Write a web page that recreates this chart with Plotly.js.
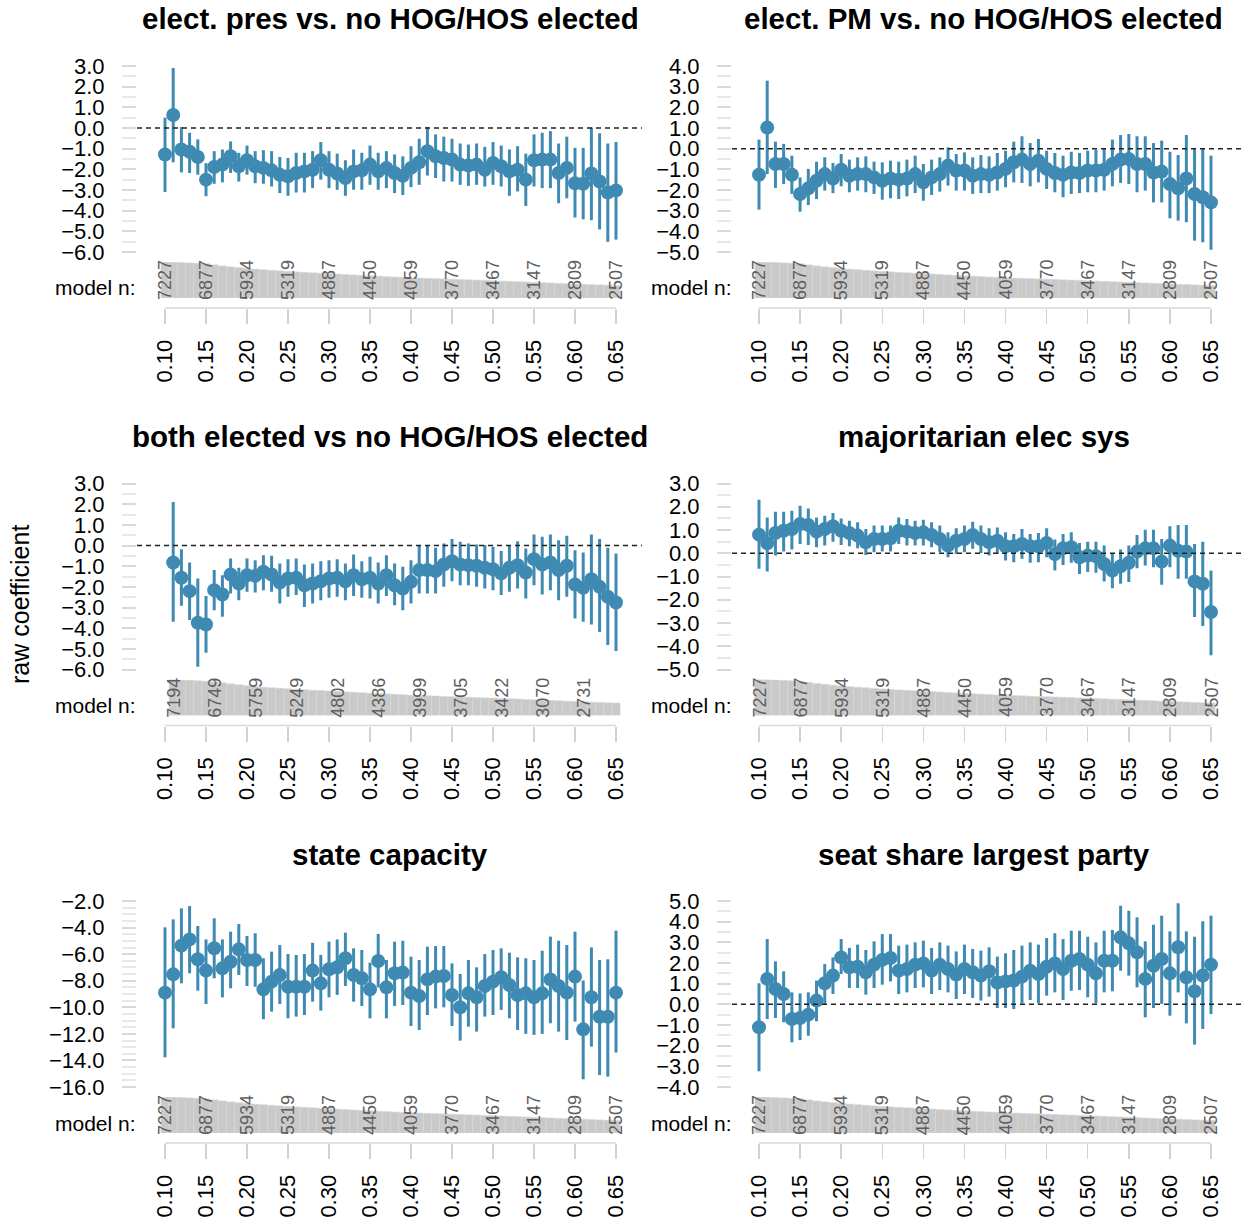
<!DOCTYPE html>
<html><head><meta charset="utf-8">
<script src="https://cdn.plot.ly/plotly-3.0.1.min.js"></script>
<style>html,body{margin:0;padding:0;background:#fff}</style>
</head><body><div id="chart" style="width:1241px;height:1221px"></div>
<script>
// ---------------- DATA ----------------
const thresholds = [0.10,0.11,0.12,0.13,0.14,0.15,0.16,0.17,0.18,0.19,0.20,0.21,0.22,0.23,0.24,0.25,0.26,0.27,0.28,0.29,0.30,0.31,0.32,0.33,0.34,0.35,0.36,0.37,0.38,0.39,0.40,0.41,0.42,0.43,0.44,0.45,0.46,0.47,0.48,0.49,0.50,0.51,0.52,0.53,0.54,0.55,0.56,0.57,0.58,0.59,0.60,0.61,0.62,0.63,0.64,0.65];
const thresholdsBoth = [0.11,0.12,0.13,0.14,0.15,0.16,0.17,0.18,0.19,0.20,0.21,0.22,0.23,0.24,0.25,0.26,0.27,0.28,0.29,0.30,0.31,0.32,0.33,0.34,0.35,0.36,0.37,0.38,0.39,0.40,0.41,0.42,0.43,0.44,0.45,0.46,0.47,0.48,0.49,0.50,0.51,0.52,0.53,0.54,0.55,0.56,0.57,0.58,0.59,0.60,0.61,0.62,0.63,0.64,0.65];
const xTickValues = [0.10,0.15,0.20,0.25,0.30,0.35,0.40,0.45,0.50,0.55,0.60,0.65];
const xTickLabels = ["0.10","0.15","0.20","0.25","0.30","0.35","0.40","0.45","0.50","0.55","0.60","0.65"];

const modelN = [7227,7180,7120,7040,6960,6877,6650,6440,6250,6090,5934,5800,5680,5560,5440,5319,5230,5140,5060,4970,4887,4800,4710,4620,4530,4450,4370,4290,4210,4130,4059,4000,3945,3885,3830,3770,3710,3650,3590,3530,3467,3400,3340,3275,3210,3147,3080,3010,2940,2875,2809,2750,2690,2630,2565,2507];
const modelNBoth = [7194,7110,7020,6930,6840,6749,6540,6320,6120,5930,5759,5650,5550,5450,5350,5249,5160,5070,4980,4890,4802,4720,4630,4550,4470,4386,4310,4230,4150,4070,3999,3940,3880,3820,3760,3705,3650,3590,3530,3480,3422,3350,3280,3210,3140,3070,3000,2930,2860,2800,2731,2670,2610,2550,2490];
const nLabelX = [0.10,0.15,0.20,0.25,0.30,0.35,0.40,0.45,0.50,0.55,0.60,0.65];
const nLabels = ["7227","6877","5934","5319","4887","4450","4059","3770","3467","3147","2809","2507"];
const nLabelXBoth = [0.11,0.16,0.21,0.26,0.31,0.36,0.41,0.46,0.51,0.56,0.61];
const nLabelsBoth = ["7194","6749","5759","5249","4802","4386","3999","3705","3422","3070","2731"];

const titles = ["elect. pres vs. no HOG/HOS elected","elect. PM vs. no HOG/HOS elected","both elected vs no HOG/HOS elected","majoritarian elec sys","state capacity","seat share largest party"];

const presEst = [-1.28,0.63,-1.04,-1.15,-1.40,-2.50,-1.89,-1.77,-1.37,-1.85,-1.56,-1.85,-1.93,-2.05,-2.26,-2.34,-2.18,-2.10,-2.02,-1.56,-2.02,-2.20,-2.42,-2.10,-2.05,-1.77,-2.10,-1.93,-2.18,-2.31,-1.93,-1.66,-1.12,-1.37,-1.45,-1.53,-1.77,-1.82,-1.77,-2.02,-1.69,-1.85,-2.10,-2.02,-2.50,-1.56,-1.53,-1.53,-2.18,-1.93,-2.67,-2.70,-2.20,-2.59,-3.12,-3.02];
const presHi = [0.50,2.90,0.05,-0.23,-0.55,-1.70,-1.12,-1.04,-0.65,-1.20,-0.85,-1.12,-1.07,-1.12,-1.40,-1.45,-1.20,-1.20,-1.12,-0.68,-1.12,-1.24,-1.56,-1.04,-1.20,-0.85,-1.20,-1.12,-1.28,-1.37,-0.88,-0.52,0.05,-0.31,-0.42,-0.52,-0.75,-0.80,-0.75,-0.91,-0.68,-0.85,-1.04,-0.88,-1.24,-0.31,-0.23,-0.15,-0.75,-0.42,-0.96,-0.96,0.02,-0.26,-0.75,-0.68];
const presLo = [-3.10,-1.66,-2.15,-2.18,-2.26,-3.30,-2.70,-2.63,-2.18,-2.59,-2.26,-2.67,-2.70,-2.83,-3.15,-3.28,-3.12,-3.12,-2.91,-2.50,-2.91,-2.99,-3.28,-2.99,-2.99,-2.75,-2.99,-2.91,-3.15,-3.24,-2.86,-2.75,-2.30,-2.42,-2.59,-2.59,-2.75,-2.80,-2.75,-2.83,-2.75,-2.83,-3.28,-3.07,-3.77,-2.83,-2.91,-2.91,-3.64,-3.40,-4.33,-4.42,-4.46,-4.91,-5.51,-5.40];

const pmEst = [-1.26,1.02,-0.74,-0.74,-1.26,-2.19,-1.92,-1.55,-1.23,-1.44,-1.02,-1.31,-1.23,-1.23,-1.39,-1.55,-1.44,-1.50,-1.44,-1.23,-1.63,-1.39,-1.23,-0.82,-1.06,-1.06,-1.31,-1.23,-1.27,-1.15,-0.98,-0.66,-0.53,-0.74,-0.58,-0.98,-1.18,-1.27,-1.15,-1.18,-1.06,-1.06,-1.02,-0.74,-0.53,-0.50,-0.74,-0.74,-1.15,-1.11,-1.71,-1.92,-1.44,-2.19,-2.35,-2.60];
const pmHi = [0.44,3.29,0.34,0.23,-0.34,-1.39,-0.98,-0.63,-0.42,-0.69,-0.26,-0.53,-0.42,-0.37,-0.63,-0.66,-0.58,-0.63,-0.53,-0.34,-0.74,-0.53,-0.42,0.06,-0.26,-0.18,-0.42,-0.31,-0.37,-0.21,-0.10,0.34,0.60,0.27,0.47,-0.10,-0.21,-0.34,-0.15,-0.21,-0.10,-0.05,0.02,0.44,0.66,0.71,0.60,0.60,0.27,0.39,-0.15,-0.31,0.66,0.02,0.02,-0.34];
const pmLo = [-2.95,-1.23,-1.90,-1.71,-2.19,-3.05,-2.73,-2.44,-2.03,-2.15,-1.82,-2.11,-2.03,-2.11,-2.19,-2.47,-2.40,-2.44,-2.31,-2.15,-2.52,-2.24,-2.08,-1.79,-2.03,-2.03,-2.19,-2.15,-2.15,-2.03,-1.87,-1.63,-1.66,-1.82,-1.63,-1.95,-2.11,-2.35,-2.19,-2.15,-2.11,-2.11,-2.03,-1.82,-1.66,-1.71,-2.11,-2.03,-2.60,-2.60,-3.37,-3.48,-3.56,-4.45,-4.53,-4.89];

const bothEst = [-0.82,-1.56,-2.21,-3.74,-3.82,-2.16,-2.37,-1.40,-1.84,-1.44,-1.47,-1.27,-1.40,-1.79,-1.60,-1.56,-1.92,-1.84,-1.73,-1.60,-1.56,-1.73,-1.44,-1.63,-1.56,-1.84,-1.44,-1.92,-2.08,-1.76,-1.19,-1.19,-1.24,-0.92,-0.76,-0.92,-0.95,-0.98,-1.08,-1.15,-1.35,-1.08,-0.95,-1.31,-0.66,-0.92,-0.82,-1.19,-0.98,-1.89,-2.05,-1.63,-2.00,-2.48,-2.76];
const bothHi = [2.10,-0.18,-0.82,-1.60,-2.44,-1.19,-1.44,-0.63,-1.08,-0.63,-0.71,-0.47,-0.50,-0.87,-0.66,-0.63,-0.92,-0.87,-0.76,-0.71,-0.66,-0.87,-0.44,-0.76,-0.55,-0.82,-0.47,-0.87,-1.03,-0.71,-0.02,-0.02,-0.11,0.10,0.31,0.18,0.10,0.05,0.02,-0.06,-0.27,0.02,0.21,-0.15,0.53,0.42,0.53,0.26,0.47,-0.23,-0.34,0.53,0.31,-0.11,-0.39];
const bothLo = [-3.69,-2.92,-3.61,-5.87,-5.19,-3.13,-3.45,-2.32,-2.65,-2.24,-2.27,-2.16,-2.24,-2.81,-2.48,-2.40,-2.97,-2.81,-2.65,-2.53,-2.48,-2.65,-2.44,-2.53,-2.56,-2.81,-2.44,-2.89,-3.13,-2.81,-2.32,-2.32,-2.32,-2.00,-1.73,-1.92,-1.92,-2.00,-2.08,-2.16,-2.40,-2.24,-2.08,-2.56,-1.92,-2.37,-2.16,-2.65,-2.48,-3.53,-3.69,-3.82,-4.18,-4.82,-5.11];

const majEst = [0.80,0.43,0.87,0.97,1.04,1.26,1.21,0.93,1.04,1.16,0.97,0.87,0.76,0.47,0.61,0.61,0.64,0.97,0.93,0.87,0.90,0.79,0.61,0.33,0.54,0.61,0.79,0.61,0.47,0.54,0.30,0.30,0.40,0.30,0.30,0.44,-0.03,0.21,0.26,-0.17,-0.10,-0.13,-0.46,-0.74,-0.56,-0.41,0.07,0.21,0.21,-0.36,0.33,0.11,0.07,-1.21,-1.31,-2.53];
const majHi = [2.30,1.54,1.79,1.79,1.83,2.04,1.93,1.54,1.61,1.73,1.50,1.40,1.33,1.04,1.19,1.19,1.19,1.54,1.47,1.40,1.44,1.33,1.19,0.90,1.07,1.19,1.36,1.19,1.07,1.11,0.90,0.83,1.04,0.83,0.87,1.07,0.59,0.83,0.90,0.44,0.50,0.50,0.33,-0.03,0.16,0.33,0.79,1.01,1.01,0.61,1.16,1.21,1.21,0.40,0.50,-0.74];
const majLo = [-0.67,-0.79,-0.10,0.07,0.16,0.40,0.36,0.26,0.33,0.50,0.36,0.30,0.21,-0.07,0.04,0.07,0.07,0.40,0.33,0.33,0.33,0.26,0.04,-0.17,-0.03,0.04,0.19,0.01,-0.10,-0.03,-0.31,-0.39,-0.24,-0.41,-0.39,-0.17,-0.74,-0.50,-0.41,-0.89,-0.81,-0.84,-1.21,-1.50,-1.31,-1.24,-0.64,-0.53,-0.60,-1.36,-0.60,-1.10,-1.10,-2.74,-3.13,-4.39];

const capEst = [-8.90,-7.52,-5.36,-4.89,-6.39,-7.24,-5.56,-7.07,-6.57,-5.64,-6.44,-6.44,-8.65,-8.07,-7.57,-8.45,-8.45,-8.45,-7.24,-8.20,-7.14,-6.99,-6.31,-7.57,-7.82,-8.65,-6.52,-8.50,-7.44,-7.39,-8.90,-9.15,-7.90,-7.69,-7.64,-9.07,-10.00,-8.95,-9.25,-8.40,-8.07,-7.74,-8.32,-9.07,-8.95,-9.25,-8.95,-7.90,-8.40,-8.90,-7.69,-11.66,-9.25,-10.71,-10.71,-8.90];
const capHi = [-3.98,-3.38,-2.55,-2.38,-3.88,-4.89,-3.30,-4.89,-4.31,-3.73,-4.63,-4.43,-6.31,-5.81,-5.31,-5.99,-6.06,-5.99,-5.14,-6.06,-5.06,-4.89,-4.38,-5.56,-5.69,-6.64,-4.48,-6.44,-5.06,-4.99,-6.19,-6.44,-5.44,-5.39,-5.39,-6.69,-7.49,-6.44,-6.99,-5.99,-5.69,-5.56,-5.89,-6.24,-6.31,-6.44,-5.74,-4.68,-4.99,-5.31,-4.31,-7.99,-5.49,-6.44,-6.39,-4.23];
const capLo = [-13.77,-11.58,-8.20,-7.44,-8.75,-9.75,-7.82,-9.25,-8.57,-7.57,-8.40,-8.45,-10.90,-10.33,-9.75,-10.83,-10.70,-10.58,-9.58,-10.25,-9.25,-9.07,-8.40,-9.58,-9.90,-10.83,-8.50,-10.83,-9.90,-9.83,-11.41,-11.71,-10.58,-10.08,-10.00,-11.41,-12.51,-11.46,-11.83,-10.70,-10.58,-10.20,-10.83,-11.71,-12.00,-12.08,-12.00,-11.20,-11.83,-12.46,-11.08,-15.42,-12.96,-15.10,-15.22,-13.41];

const seatEst = [-1.11,1.23,0.74,0.50,-0.71,-0.66,-0.50,0.18,1.02,1.39,2.27,1.79,1.82,1.55,1.92,2.15,2.24,1.63,1.71,1.92,1.98,1.63,1.92,1.71,1.44,1.71,1.55,1.39,1.60,1.06,1.11,1.15,1.34,1.63,1.47,1.82,1.98,1.71,2.11,2.19,1.92,1.50,2.11,2.11,3.24,2.95,2.52,1.23,1.87,2.19,1.50,2.76,1.31,0.63,1.39,1.92];
const seatHi = [1.02,3.16,2.08,1.60,0.58,0.53,0.58,1.15,1.95,2.27,3.16,2.73,2.89,2.63,3.05,3.40,3.40,2.84,2.89,3.00,3.08,2.73,3.00,2.84,2.56,2.89,2.68,2.60,2.76,2.31,2.47,2.63,2.84,3.00,2.89,3.21,3.44,3.16,3.56,3.56,3.27,3.00,3.56,3.60,4.77,4.53,4.21,3.05,3.85,4.29,3.53,4.89,3.53,3.27,4.02,4.29];
const seatLo = [-3.24,-0.71,-0.66,-0.87,-1.84,-1.73,-1.52,-0.82,0.02,0.50,1.47,0.79,0.79,0.47,0.79,0.95,1.11,0.50,0.58,0.79,0.82,0.50,0.69,0.58,0.26,0.50,0.31,0.18,0.37,-0.18,-0.18,-0.23,0.05,0.21,0.05,0.42,0.58,0.21,0.66,0.69,0.34,0.05,0.58,0.63,1.63,1.39,0.82,-0.63,-0.18,0.02,-0.55,0.58,-0.92,-1.95,-1.19,-0.47];

// ---------------- LAYOUT HELPERS ----------------
const W = 1241, H = 1221;
const px = v => v / W;
const py = v => 1 - v / H;
const FONT = "Liberation Sans, Arial, Helvetica, sans-serif";
const BLUE = "#3f8ab3";
const cols = [{l:137, r:642, x10:165, x65:616, title:390, nlab:138},
              {l:732, r:1241, x10:759, x65:1211, title:984, nlab:734}];
const ROW = 417.5;

const panels = [
  {est:presEst, lo:presLo, hi:presHi, x:thresholds, n:modelN, nx:nLabelX, nl:nLabels, yT:3, yB:-6, dt:1, zero:true},
  {est:pmEst, lo:pmLo, hi:pmHi, x:thresholds, n:modelN, nx:nLabelX, nl:nLabels, yT:4, yB:-5, dt:1, zero:true},
  {est:bothEst, lo:bothLo, hi:bothHi, x:thresholdsBoth, n:modelNBoth, nx:nLabelXBoth, nl:nLabelsBoth, yT:3, yB:-6, dt:1, zero:true},
  {est:majEst, lo:majLo, hi:majHi, x:thresholds, n:modelN, nx:nLabelX, nl:nLabels, yT:3, yB:-5, dt:1, zero:true},
  {est:capEst, lo:capLo, hi:capHi, x:thresholds, n:modelN, nx:nLabelX, nl:nLabels, yT:-2, yB:-16, dt:2, zero:false},
  {est:seatEst, lo:seatLo, hi:seatHi, x:thresholds, n:modelN, nx:nLabelX, nl:nLabels, yT:5, yB:-4, dt:1, zero:true}
];

const data = [];
const layout = {
  width: W, height: H,
  margin: {l:0, r:0, t:0, b:0},
  paper_bgcolor: "#fff", plot_bgcolor: "rgba(0,0,0,0)",
  showlegend: false, bargap: 0,
  font: {family: FONT, color: "#000"},
  annotations: [], shapes: []
};

panels.forEach((p, i) => {
  const k = i + 1, ks = i + 7;
  const c = cols[i % 2];
  const off = Math.floor(i / 2) * ROW;
  const xa = k === 1 ? "x" : "x" + k, ya = k === 1 ? "y" : "y" + k;
  const xs = "x" + ks, ys = "y" + ks;
  const u = 0.55 / (c.x65 - c.x10);
  const xRange = [0.10 - (c.x10 - c.l) * u, 0.65 + (c.r - c.x65) * u];
  const ppu = 186 / (p.yT - p.yB);

  // main subplot
  layout["xaxis" + (k === 1 ? "" : k)] = {domain:[px(c.l), px(c.r)], range:xRange, visible:false, anchor:ya, fixedrange:true};
  layout["yaxis" + (k === 1 ? "" : k)] = {
    domain:[py(258 + off), py(60 + off)], range:[p.yB - 6 / ppu, p.yT + 6 / ppu], anchor:xa,
    showgrid:false, zeroline:false, showline:false,
    tick0:0, dtick:p.dt, tickformat:".1f", ticks:"outside", ticklen:14, tickwidth:2, tickcolor:"#d9d9d9",
    minor:{dtick:0.5, ticks:"outside", ticklen:14, tickwidth:2, tickcolor:"#e8e8e8"},
    tickfont:{size:22, color:"#000", family:FONT}, ticklabelstandoff:13, fixedrange:true
  };
  // strip subplot (model n bars) with x tick axis
  layout["xaxis" + ks] = {
    domain:[px(c.l), px(c.r)], range:xRange, anchor:"free", position:py(308 + off),
    showgrid:false, zeroline:false, showline:false,
    tickmode:"array", tickvals:xTickValues, ticktext:xTickLabels, tickangle:-90,
    ticks:"outside", ticklen:15, tickwidth:1.5, tickcolor:"#d2d2d2",
    tickfont:{size:22, color:"#000", family:FONT}, ticklabelstandoff:7, fixedrange:true
  };
  layout["yaxis" + ks] = {domain:[py(298 + off), py(262 + off)], range:[0, Math.max(...p.n)], visible:false, anchor:xs, fixedrange:true};

  data.push({
    type:"bar", x:p.x, y:p.n, xaxis:xs, yaxis:ys, width:0.01,
    marker:{color:"#c9c9c9", line:{color:"#d6d6d6", width:0.6}}, hoverinfo:"skip"
  });
  data.push({
    type:"scatter", mode:"markers", x:p.x, y:p.est, xaxis:xa, yaxis:ya,
    marker:{size:14, color:BLUE},
    error_y:{type:"data", symmetric:false,
      array:p.hi.map((h, j) => h - p.est[j]), arrayminus:p.lo.map((l, j) => p.est[j] - l),
      width:0, thickness:3, color:BLUE},
    hoverinfo:"skip", cliponaxis:false
  });

  // axis line under strip (from first to last tick)
  layout.shapes.push({type:"line", xref:xs, yref:"paper", x0:xTickValues[0], x1:xTickValues[xTickValues.length-1],
    y0:py(308 + off), y1:py(308 + off), line:{color:"#d9d9d9", width:1.5}});
  if (p.zero) {
    layout.shapes.push({type:"line", xref:xa + " domain", yref:ya, x0:0, x1:1, y0:0, y1:0,
      line:{color:"#222", width:1.5, dash:"5px,4px"}});
  }
  // title
  layout.annotations.push({text:titles[i], xref:"paper", yref:"paper", x:px(c.title), y:py(19 + off),
    xanchor:"center", yanchor:"middle", showarrow:false, font:{size:29.5, weight:"bold", family:FONT, color:"#000"}});
  // model n label
  layout.annotations.push({text:"model n:", xref:"paper", yref:"paper", x:px(c.nlab), y:py(288 + off),
    xanchor:"right", yanchor:"middle", showarrow:false, font:{size:21, family:FONT, color:"#000"}});
  // n labels
  p.nl.forEach((t, j) => {
    layout.annotations.push({text:t, xref:xs, yref:"paper", x:p.nx[j], y:py(280 + off), textangle:-90,
      xanchor:"center", yanchor:"middle", showarrow:false, font:{size:18, family:FONT, color:"#5e5e5e"}});
  });
});

layout.annotations.push({text:"raw coefficient", xref:"paper", yref:"paper", x:px(20), y:py(605),
  textangle:-90, xanchor:"center", yanchor:"middle", showarrow:false, font:{size:25, family:FONT, color:"#000"}});

Plotly.newPlot("chart", data, layout, {staticPlot:true, displayModeBar:false});
</script>
</body></html>
